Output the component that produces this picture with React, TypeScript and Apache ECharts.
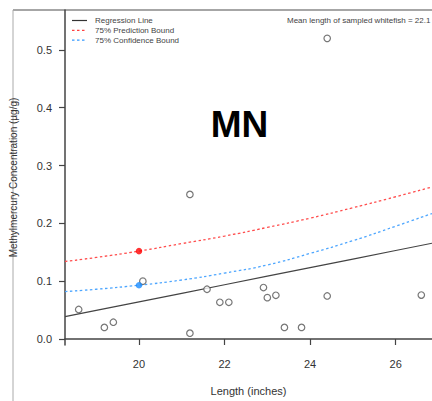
import React, { useEffect, useRef } from "react";
import * as echarts from "echarts";

// Observed fish (length in inches, methylmercury µg/g)
const fishLength = [18.59, 19.19, 19.4, 20.09, 21.19, 21.19, 21.59, 21.89, 22.1, 22.91, 23.0, 23.2, 23.4, 23.8, 24.4, 24.4, 26.6];
const fishHg = [0.051, 0.02, 0.029, 0.1, 0.01, 0.25, 0.086, 0.0635, 0.0635, 0.089, 0.0715, 0.0756, 0.02, 0.02, 0.0744, 0.52, 0.076];

// Curves
const curveX = [18.27, 19, 20, 21, 22, 23, 24, 25, 26, 26.85];
const regression = [0.0386, 0.0494, 0.0642, 0.079, 0.0938, 0.1086, 0.1234, 0.1382, 0.153, 0.1656];
const predictionBound = [0.134, 0.141, 0.152, 0.165, 0.178, 0.193, 0.209, 0.227, 0.246, 0.263];
const confidenceBound = [0.082, 0.086, 0.093, 0.102, 0.114, 0.128, 0.148, 0.17, 0.195, 0.217];

// Highlighted values at mean length
const highlightX = [20, 20];
const highlightY = [0.152, 0.093];

const xTicks = [20, 22, 24, 26];
const yTicks = [0, 0.1, 0.2, 0.3, 0.4, 0.5];

const legendLabels = ["Regression Line", "75% Prediction Bound", "75% Confidence Bound"];
const meanText = "Mean length of sampled whitefish = 22.1";
const stateLabel = "MN";

const FONT = "'Liberation Sans', Arial, Helvetica, sans-serif";

export default function App() {
  const ref = useRef<HTMLDivElement>(null);
  useEffect(() => {
    if (!ref.current) return;
    const chart = echarts.init(ref.current, null, { renderer: "svg" });
    const pair = (xs: number[], ys: number[]) => xs.map((x, i) => [x, ys[i]]);
    const legendColors = ["#333333", "#ff4040", "#3399ff"];
    const legendTypes: any[] = ["solid", [2.5, 2.5], [2.5, 2.5]];
    const legendGraphics: any[] = [];
    legendLabels.forEach((lab, i) => {
      const y = 20.5 + i * 9.8;
      legendGraphics.push({
        type: "line",
        shape: { x1: 72, y1: y, x2: 87, y2: y },
        style: { stroke: legendColors[i], lineWidth: 1.2, lineDash: legendTypes[i] === "solid" ? null : legendTypes[i] },
      });
      legendGraphics.push({
        type: "text",
        x: 95,
        y: y,
        style: { text: lab, fontSize: 8, fontFamily: FONT, fill: "#444", verticalAlign: "middle" },
      });
    });
    chart.setOption({
      animation: false,
      grid: { left: 65, top: 10, right: -5, bottom: 56 },
      xAxis: {
        type: "value",
        min: 18.27,
        max: 26.85,
        name: "Length (inches)",
        nameLocation: "middle",
        nameGap: 40,
        nameTextStyle: { fontSize: 11, color: "#333", fontFamily: FONT },
        axisLine: { show: true, lineStyle: { color: "#444", width: 1.5 } },
        axisTick: { show: true, length: 6, customValues: xTicks, lineStyle: { color: "#444", width: 1.2 } },
        axisLabel: { customValues: xTicks, fontSize: 11, color: "#333", margin: 13, fontFamily: FONT },
        splitLine: { show: false },
      },
      yAxis: {
        type: "value",
        min: -0.0104,
        max: 0.569,
        name: "Methylmercury Concentration (µg/g)",
        nameLocation: "middle",
        nameGap: 47,
        nameRotate: 90,
        nameTextStyle: { fontSize: 10, color: "#333", fontFamily: FONT },
        axisLine: { show: true, lineStyle: { color: "#444", width: 1.5 } },
        axisTick: { show: true, length: 6, customValues: yTicks, lineStyle: { color: "#444", width: 1.2 } },
        axisLabel: {
          customValues: yTicks,
          fontSize: 11,
          color: "#333",
          margin: 13,
          fontFamily: FONT,
          formatter: (v: number) => v.toFixed(1),
        },
        splitLine: { show: false },
      },
      series: [
        {
          name: legendLabels[0],
          type: "line",
          data: pair(curveX, regression),
          symbol: "none",
          lineStyle: { color: "#444", width: 1.2 },
        },
        {
          name: legendLabels[1],
          type: "line",
          smooth: true,
          data: pair(curveX, predictionBound),
          symbol: "none",
          lineStyle: { color: "#ff4d4d", width: 1.3, type: [2.5, 2.5] },
        },
        {
          name: legendLabels[2],
          type: "line",
          smooth: true,
          data: pair(curveX, confidenceBound),
          symbol: "none",
          lineStyle: { color: "#4da6ff", width: 1.3, type: [2.5, 2.5] },
        },
        {
          type: "scatter",
          data: pair(fishLength, fishHg),
          symbol: "circle",
          symbolSize: 6.5,
          itemStyle: { color: "#ffffff", borderColor: "#555", borderWidth: 1.2 },
          z: 5,
        },
        {
          type: "scatter",
          data: [
            { value: [highlightX[0], highlightY[0]], itemStyle: { color: "#ff0000" } },
            { value: [highlightX[1], highlightY[1]], itemStyle: { color: "#1a8cff" } },
          ],
          symbol: "circle",
          symbolSize: 6.5,
          z: 6,
        },
      ],
      graphic: [
        {
          type: "line",
          shape: { x1: 13, y1: 10, x2: 432, y2: 10 },
          style: { stroke: "#888", lineWidth: 1.5 },
        },
        {
          type: "line",
          shape: { x1: 13, y1: 10, x2: 13, y2: 401 },
          style: { stroke: "#aaa", lineWidth: 1 },
        },
        ...legendGraphics,
        {
          type: "text",
          x: 287,
          y: 20.5,
          style: { text: meanText, fontSize: 8, fontFamily: FONT, fill: "#444", verticalAlign: "middle" },
        },
        {
          type: "text",
          x: 239.5,
          y: 124,
          style: {
            text: stateLabel,
            fontSize: 37,
            fontWeight: "bold",
            fontFamily: FONT,
            fill: "#000",
            align: "center",
            verticalAlign: "middle",
          },
        },
      ],
    });
    return () => chart.dispose();
  }, []);
  return (
    <div
      ref={ref}
      style={{ position: "fixed", left: 0, top: 0, width: 432, height: 401, background: "#fff" }}
    />
  );
}
